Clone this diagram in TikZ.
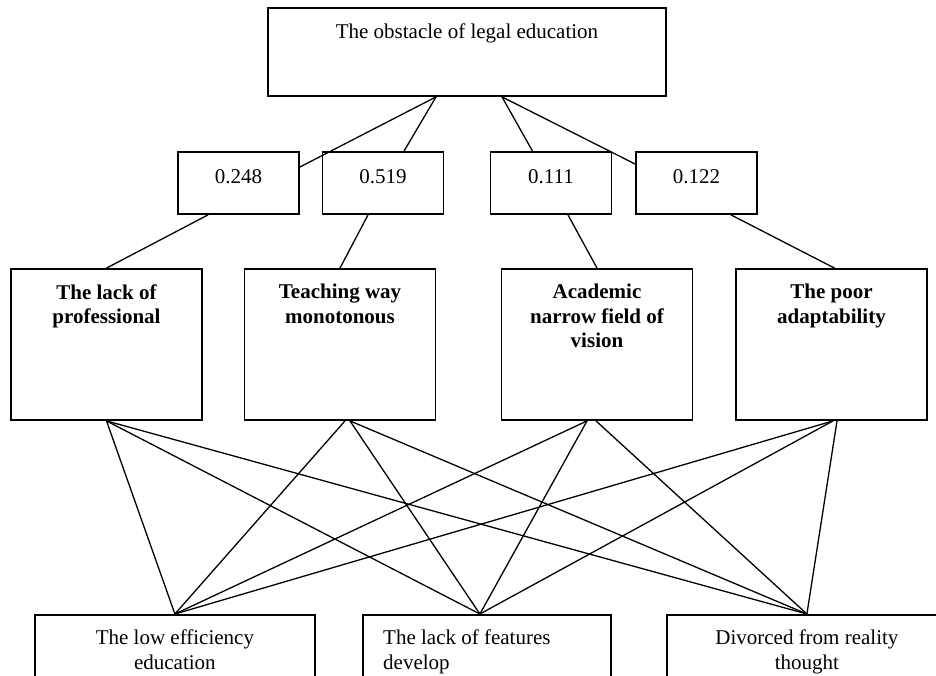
\documentclass[tikz,border=0pt]{standalone}
\usepackage{fontspec}
\setmainfont{Liberation Serif}
\begin{document}
\begin{tikzpicture}[x=1pt,y=-1pt,
  box/.style={draw, line width=1.8pt, inner sep=0pt},
  wbox/.style={box, minimum width=121pt, minimum height=62pt},
  cbox/.style={box, minimum width=191pt, minimum height=151pt},
  bbox/.style={box, minimum width=280pt, minimum height=80pt},
  txt/.style={inner sep=0pt, align=center, font=\fontsize{21}{24.5}\selectfont},
  btxt/.style={txt, font=\fontsize{21}{24.5}\selectfont\bfseries},
  conn/.style={line width=1.3pt}]
\clip (0,0) rectangle (936,675);
\fill[white] (0,0) rectangle (936,675);
% top
\node[box, minimum width=398pt, minimum height=88pt] (top) at (467,52) {};
\node[txt, anchor=north] (ttop) at ([yshift=-16]top.north) {The obstacle of legal education};
% weights
\node[wbox] (w1) at (238.5,183) {};
\node[wbox] (w2) at (383,183) {};
\node[wbox] (w3) at (551,183) {};
\node[wbox] (w4) at (696.5,183) {};
\node[txt, anchor=north] (tw1) at ([yshift=-18]w1.north) {0.248};
\node[txt, anchor=north] (tw2) at ([yshift=-18]w2.north) {0.519};
\node[txt, anchor=north] (tw3) at ([yshift=-18]w3.north) {0.111};
\node[txt, anchor=north] (tw4) at ([yshift=-18]w4.north) {0.122};
% criteria
\node[cbox] (c1) at (106.5,344.5) {};
\node[cbox] (c2) at (340,344.5) {};
\node[cbox] (c3) at (597,344.5) {};
\node[cbox] (c4) at (831.5,344.5) {};
\node[btxt, anchor=north] (tc1) at ([yshift=-16]c1.north) {The lack of\\professional};
\node[btxt, anchor=north] (tc2) at ([yshift=-16]c2.north) {Teaching way\\monotonous};
\node[btxt, anchor=north] (tc3) at ([yshift=-16]c3.north) {Academic\\narrow field of\\vision};
\node[btxt, anchor=north] (tc4) at ([yshift=-16]c4.north) {The poor\\adaptability};
% bottom
\node[bbox, anchor=north west] (b1) at (34,614) {};
\node[bbox, anchor=north west, minimum width=248pt] (b2) at (362,614) {};
\node[bbox, anchor=north west] (b3) at (666,614) {};
\node[txt, anchor=north] (tb1) at ([yshift=-16]b1.north) {The low efficiency\\education};
\node[txt, anchor=north west, align=left] (tb2) at ([xshift=21,yshift=-16]b2.north west) {The lack of features\\develop};
\node[txt, anchor=north] (tb3) at ([yshift=-16]b3.north) {Divorced from reality\\thought};
% connectors top -> weights
\draw[conn] ([xshift=-31]top.south) -- ([yshift=16]w1.east);
\draw[conn] ([xshift=-31]top.south) -- ([xshift=21]w2.north);
\draw[conn] ([xshift=35]top.south) -- ([xshift=-18.5]w3.north);
\draw[conn] ([xshift=35]top.south) -- ([yshift=19]w4.west);
% weights -> criteria
\draw[conn] ([xshift=-30.5]w1.south) -- (c1.north);
\draw[conn] ([xshift=-15]w2.south) -- (c2.north);
\draw[conn] ([xshift=17]w3.south) -- (c3.north);
\draw[conn] ([xshift=34.5]w4.south) -- ([xshift=3]c4.north);
% criteria -> bottom
\draw[conn] (c1.south) -- (b1.north);
\draw[conn] (c1.south) -- ([xshift=-7]b2.north);
\draw[conn] (c1.south) -- (b3.north);
\draw[conn] ([xshift=5]c2.south) -- (b1.north);
\draw[conn] ([xshift=10]c2.south) -- ([xshift=-7]b2.north);
\draw[conn] ([xshift=10]c2.south) -- (b3.north);
\draw[conn] ([xshift=-10]c3.south) -- (b1.north);
\draw[conn] ([xshift=-10]c3.south) -- ([xshift=-7]b2.north);
\draw[conn] ([xshift=-1]c3.south) -- (b3.north);
\draw[conn] ([xshift=1.5]c4.south) -- (b1.north);
\draw[conn] ([xshift=1.5]c4.south) -- ([xshift=-7]b2.north);
\draw[conn] ([xshift=5.5]c4.south) -- (b3.north);
\end{tikzpicture}
\end{document}
